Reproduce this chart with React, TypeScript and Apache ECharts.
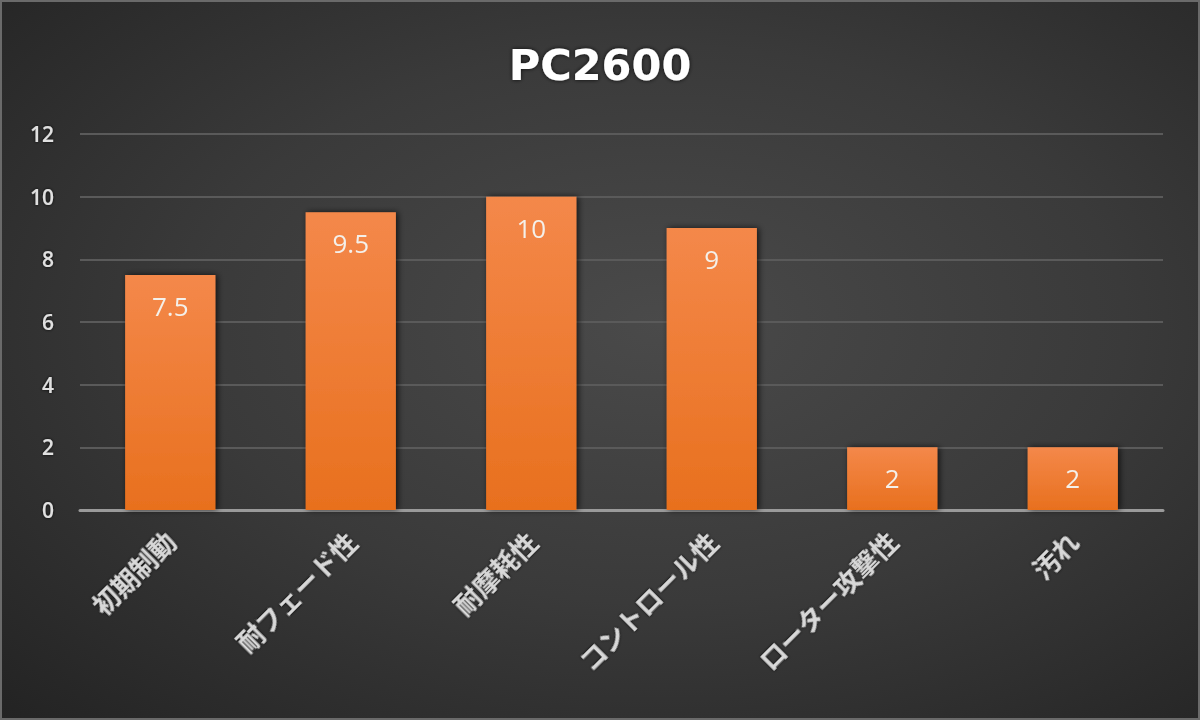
import React, { useEffect, useRef } from "react";
import * as echarts from "echarts";

const categories = ["初期制動", "耐フェード性", "耐摩耗性", "コントロール性", "ローター攻撃性", "汚れ"];
const values = [7.5, 9.5, 10, 9, 2, 2];
const yTicks = [0, 2, 4, 6, 8, 10, 12];

export default function App() {
  const ref = useRef<HTMLDivElement>(null);
  useEffect(() => {
    const chart = echarts.init(ref.current!, null, { renderer: "svg" });
    chart.setOption({
      animation: false,
      backgroundColor: "transparent",
      title: {
        text: "PC2600",
        left: "center",
        top: 36,
        textStyle: {
          color: "#ffffff",
          fontSize: 43,
          fontWeight: "bold",
          fontFamily: "DejaVu Sans, sans-serif",
          textShadowColor: "rgba(0,0,0,0.8)",
          textShadowBlur: 4,
        },
      },
      grid: { left: 78, right: 35, top: 132, bottom: 208 },
      xAxis: {
        type: "category",
        data: categories,
        axisLine: { lineStyle: { color: "#9a9a9a", width: 3 } },
        axisTick: { show: false },
        axisLabel: {
          rotate: 45,
          color: "#d8d8d8",
          fontSize: 26,
          fontWeight: 600,
          margin: 26,
          fontFamily: "Noto Sans CJK JP, sans-serif",
          textShadowColor: "rgba(0,0,0,0.85)",
          textShadowBlur: 3,
        },
      },
      yAxis: {
        type: "value",
        min: yTicks[0],
        max: yTicks[yTicks.length - 1],
        interval: 2,
        axisLine: { show: false },
        axisTick: { show: false },
        splitLine: { lineStyle: { color: "#5a5a5a", width: 2 } },
        axisLabel: {
          color: "#e0e0e0",
          fontSize: 21,
          fontWeight: 600,
          margin: 26,
          fontFamily: "Open Sans, sans-serif",
          textShadowColor: "rgba(0,0,0,0.9)",
          textShadowBlur: 3,
        },
      },
      series: [
        {
          type: "bar",
          data: values,
          barWidth: "50%",
          itemStyle: {
            color: new echarts.graphic.LinearGradient(0, 0, 0, 1, [
              { offset: 0, color: "#f4884a" },
              { offset: 1, color: "#e8701e" },
            ]),
            shadowColor: "rgba(0,0,0,0.7)",
            shadowBlur: 6,
            shadowOffsetX: 2,
          },
          label: {
            show: true,
            position: "insideTop",
            distance: 18,
            color: "#f4f0ea",
            fontSize: 26,
            fontFamily: "Open Sans, sans-serif",
          },
        },
      ],
    });
    return () => chart.dispose();
  }, []);
  return (
    <div
      style={{
        position: "fixed",
        left: 0,
        top: 0,
        width: 1200,
        height: 720,
        background: "radial-gradient(ellipse at 55% 45%, #4a4a4a 0%, #3a3a3a 50%, #232323 100%)",
        boxSizing: "border-box",
        border: "2px solid #6a6a6a",
      }}
    >
      <div ref={ref} style={{ width: "100%", height: "100%" }} />
    </div>
  );
}
